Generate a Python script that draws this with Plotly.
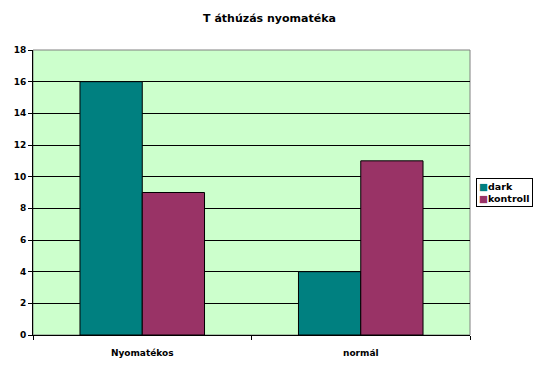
import plotly.graph_objects as go

categories = ["Nyomatékos", "normál"]
dark_values = [16, 4]
kontroll_values = [9, 11]
y_ticks = [0, 2, 4, 6, 8, 10, 12, 14, 16, 18]
series_names = ["dark", "kontroll"]
series_colors = ["#008080", "#993366"]

fig = go.Figure()
for name, vals, col in zip(series_names, [dark_values, kontroll_values], series_colors):
    fig.add_trace(go.Bar(name=name, x=categories, y=vals,
                         marker=dict(color=col, line=dict(color="black", width=1))))

font_family = "Verdana, DejaVu Sans, sans-serif"
fig.update_layout(
    width=539, height=369,
    margin=dict(l=33, r=69, t=50, b=34, autoexpand=False),
    paper_bgcolor="white",
    plot_bgcolor="#CCFFCC",
    barmode="group",
    bargap=0.43,
    bargroupgap=0,
    title=dict(text="<b>T áthúzás nyomatéka</b>", x=0.5, xref="container", xanchor="center",
               y=1 - 18 / 369, yref="container", yanchor="middle",
               font=dict(family=font_family, size=11, color="black")),
    font=dict(family=font_family, size=9, color="black"),
    showlegend=False,
)

# legend drawn as a bordered text box
legend_text = "<br>".join(
    f"<span style='color:{c}'>■</span><b>{n}</b>" for n, c in zip(series_names, series_colors)
)
fig.add_annotation(text=legend_text, xref="paper", yref="paper",
                   x=1.014, xanchor="left", y=0.50, yanchor="middle",
                   showarrow=False, align="left", bgcolor="white",
                   bordercolor="black", borderwidth=1, borderpad=2,
                   font=dict(family=font_family, size=9.5, color="black"))

fig.update_yaxes(range=[0, 18], tickvals=y_ticks, ticktext=[f"<b>{v}</b>" for v in y_ticks],
                 showgrid=True, gridcolor="black", gridwidth=1,
                 showline=True, linecolor="black", linewidth=1,
                 ticks="outside", ticklen=4, tickcolor="black", zeroline=False,
                 automargin=False)
fig.update_xaxes(tickvals=categories, ticktext=[f"<b>{c}</b>" for c in categories],
                 showline=True, linecolor="black", linewidth=1,
                 ticks="outside", tickson="boundaries", ticklen=4, tickcolor="black",
                 showgrid=False, automargin=False, ticklabelstandoff=9)
fig.add_shape(type="rect", xref="paper", yref="paper", x0=0, y0=0, x1=1, y1=1,
              line=dict(color="#808080", width=1), fillcolor="rgba(0,0,0,0)", layer="below")

fig.write_html("out.html", config={"displayModeBar": False},
               post_script="document.body.style.margin='0';")
